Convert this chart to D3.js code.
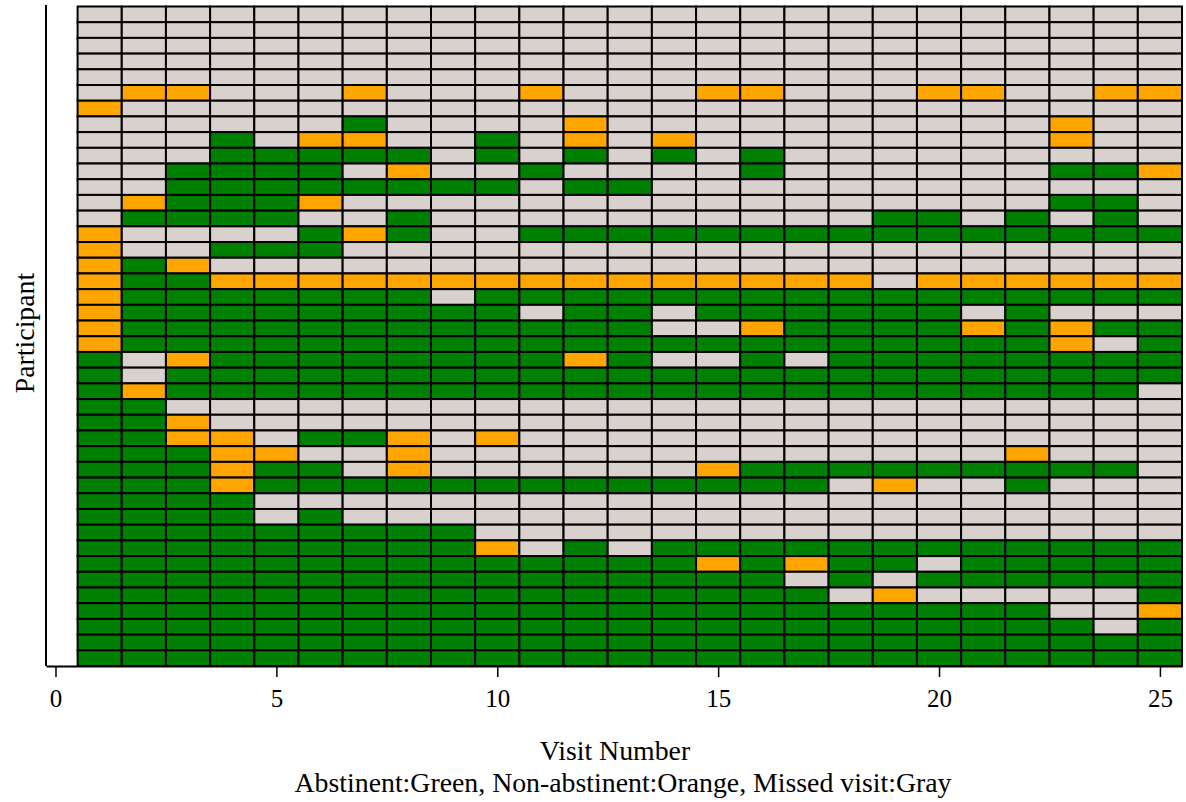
<!DOCTYPE html>
<html>
<head>
<meta charset="utf-8">
<script src="https://cdn.jsdelivr.net/npm/d3@7"></script>
<style>
  body { margin: 0; background: #fff; }
  svg { display: block; }
  text { font-family: "Liberation Serif", "Times New Roman", serif; fill: #000; }
</style>
</head>
<body>
<div id="chart"></div>
<script>
// Visits along the x axis and the axis tick labels
const visits = [1, 2, 3, 4, 5, 6, 7, 8, 9, 10, 11, 12, 13, 14, 15, 16, 17, 18, 19, 20, 21, 22, 23, 24, 25];
const xTicks = [0, 5, 10, 15, 20, 25];

// Participants, listed from the top row to the bottom row
const participantIds = [42, 41, 40, 39, 38, 37, 36, 35, 34, 33, 32, 31, 30, 29, 28, 27, 26, 25, 24, 23, 22,
                        21, 20, 19, 18, 17, 16, 15, 14, 13, 12, 11, 10, 9, 8, 7, 6, 5, 4, 3, 2, 1];

// Status per visit (visits 1-25, grouped by five): G = abstinent, O = non-abstinent, M = missed visit
const visitStatus = [
  "MMMMM MMMMM MMMMM MMMMM MMMMM",
  "MMMMM MMMMM MMMMM MMMMM MMMMM",
  "MMMMM MMMMM MMMMM MMMMM MMMMM",
  "MMMMM MMMMM MMMMM MMMMM MMMMM",
  "MMMMM MMMMM MMMMM MMMMM MMMMM",
  "MOOMM MOMMM OMMMO OMMMO OMMOO",
  "OMMMM MMMMM MMMMM MMMMM MMMMM",
  "MMMMM MGMMM MOMMM MMMMM MMOMM",
  "MMMGM OOMMG MOMOM MMMMM MMOMM",
  "MMMGG GGGMG MGMGM GMMMM MMMMM",
  "MMGGG GMOMM GMMMM GMMMM MMGGO",
  "MMGGG GGGGG MGGMM MMMMM MMMMM",
  "MOGGG OMMMM MMMMM MMMMM MMGGM",
  "MGGGG MMGMM MMMMM MMMGG MGMGM",
  "OMMMM GOGMM GGGGG GGGGG GGGGG",
  "OMMGG GMMMM MMMMM MMMMM MMMMM",
  "OGOMM MMMMM MMMMM MMMMM MMMMM",
  "OGGOO OOOOO OOOOO OOOMO OOOOO",
  "OGGGG GGGMG GGGGG GGGGG GGGGG",
  "OGGGG GGGGG MGGMG GGGGG MGMMM",
  "OGGGG GGGGG GGGMM OGGGG OGOGG",
  "OGGGG GGGGG GGGGG GGGGG GGOMG",
  "GMOGG GGGGG GOGMM GMGGG GGGGG",
  "GMGGG GGGGG GGGGG GGGGG GGGGG",
  "GOGGG GGGGG GGGGG GGGGG GGGGM",
  "GGMMM MMMMM MMMMM MMMMM MMMMM",
  "GGOMM MMMMM MMMMM MMMMM MMMMM",
  "GGOOM GGOMO MMMMM MMMMM MMMMM",
  "GGGOO MMOMM MMMMM MMMMM MOMMM",
  "GGGOG GMOMM MMMMO GGGGG GGGGM",
  "GGGOG GGGGG GGGGG GGMOM MGMMM",
  "GGGGM MMMMM MMMMM MMMMM MMMMM",
  "GGGGM GMMMM MMMMM MMMMM MMMMM",
  "GGGGG GGGGM MMMMM MMMMM MMMMM",
  "GGGGG GGGGO MGMGG GGGGG GGGGG",
  "GGGGG GGGGG GGGGO GOGGM GGGGG",
  "GGGGG GGGGG GGGGG GMGMG GGGGG",
  "GGGGG GGGGG GGGGG GGMOM MMMMG",
  "GGGGG GGGGG GGGGG GGGGG GGMMO",
  "GGGGG GGGGG GGGGG GGGGG GGGMG",
  "GGGGG GGGGG GGGGG GGGGG GGGGG",
  "GGGGG GGGGG GGGGG GGGGG GGGGG"
];

const statusColor = { G: "#008000", O: "#ffa500", M: "#d9d1ce" };

const width = 1186, height = 802;
const plot = { left: 46, right: 1182, top: 6.5, bottom: 666 };

const svg = d3.select("#chart").append("svg")
  .attr("width", width).attr("height", height);

const x = d3.scaleLinear().domain([-0.215, 25.5]).range([plot.left, plot.right]);
const y = d3.scaleBand().domain(participantIds).range([plot.top, plot.bottom]).padding(0);

const cells = [];
participantIds.forEach((p, i) => {
  const codes = visitStatus[i].replace(/ /g, "").split("");
  visits.forEach((v, j) => cells.push({ participant: p, visit: v, status: codes[j] }));
});

svg.append("g").selectAll("rect")
  .data(cells)
  .join("rect")
  .attr("x", d => x(d.visit - 0.5))
  .attr("y", d => y(d.participant))
  .attr("width", d => x(d.visit + 0.5) - x(d.visit - 0.5))
  .attr("height", y.bandwidth())
  .attr("fill", d => statusColor[d.status])
  .attr("stroke", "#000")
  .attr("stroke-width", 2);

// Bottom axis
const xAxis = d3.axisBottom(x).tickValues(xTicks).tickSize(11).tickSizeOuter(0).tickPadding(12);
const gx = svg.append("g").attr("transform", `translate(0,${plot.bottom})`).call(xAxis);
gx.select(".domain").attr("stroke", "#000").attr("stroke-width", 2);
gx.selectAll(".tick line").attr("stroke", "#000").attr("stroke-width", 1.5);
gx.selectAll(".tick text").attr("font-size", 25).attr("font-family", "Liberation Serif").attr("fill", "#000");

// Left axis line (no ticks)
svg.append("line")
  .attr("x1", plot.left).attr("x2", plot.left)
  .attr("y1", 5).attr("y2", plot.bottom)
  .attr("stroke", "#000").attr("stroke-width", 2);

// Axis titles
svg.append("text")
  .attr("x", 615).attr("y", 760)
  .attr("text-anchor", "middle").attr("font-size", 27.8)
  .text("Visit Number");

svg.append("text")
  .attr("x", 623).attr("y", 792)
  .attr("text-anchor", "middle").attr("font-size", 27.8)
  .text("Abstinent:Green, Non-abstinent:Orange, Missed visit:Gray");

svg.append("text")
  .attr("transform", "translate(34,333) rotate(-90)")
  .attr("text-anchor", "middle").attr("font-size", 27.8)
  .text("Participant");
</script>
</body>
</html>
